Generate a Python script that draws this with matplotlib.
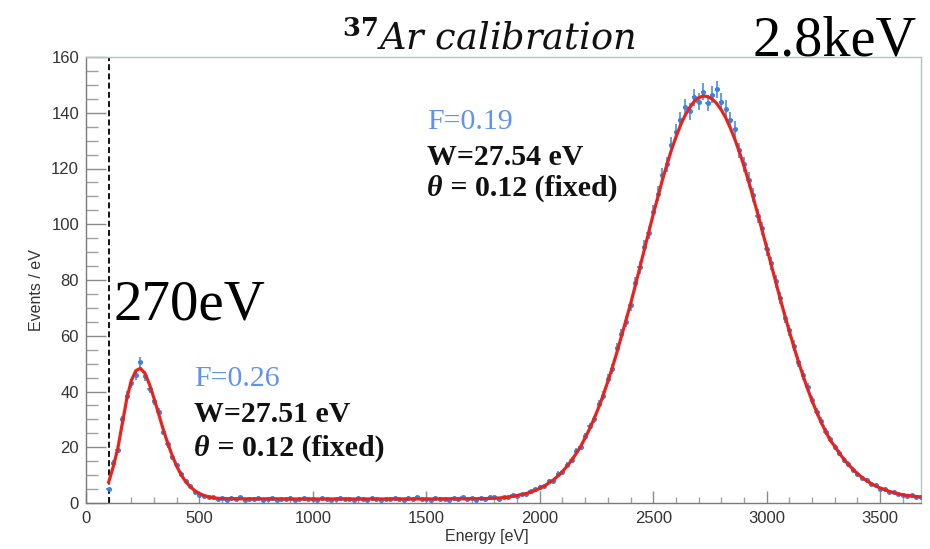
import numpy as np
import matplotlib
matplotlib.use("Agg")
import matplotlib.pyplot as plt
from matplotlib.ticker import MultipleLocator

# ---------------- data ----------------
bin_start = 100      # eV, first bin centre
bin_width = 20       # eV

counts = [
    # 100 - 600
    5.0, 14.5, 19.0, 30.0, 38.5, 43.0, 46.0, 50.5, 45.5, 41.0,
    36.5, 32.5, 25.5, 21.0, 16.5, 13.5, 10.5, 8.0, 6.0, 4.0,
    3.0, 2.6, 2.0, 2.3, 1.4, 1.8,
    # 620 - 1780
    1.2, 1.7, 1.4, 2.0, 1.1, 1.6, 1.3, 1.9, 1.0, 1.5,
    1.8, 1.2, 1.6, 1.4, 1.9, 1.1, 1.5, 1.7, 1.3, 1.6,
    1.2, 1.8, 1.4, 1.0, 1.6, 1.9, 1.3, 1.5, 1.1, 1.7,
    1.4, 1.2, 1.8, 1.5, 1.0, 1.6, 1.3, 1.9, 1.4, 1.2,
    1.7, 1.5, 2.1, 1.3, 1.6, 1.1, 1.8, 1.4, 1.6, 1.2,
    1.9, 1.5, 2.2, 1.4, 1.7, 1.2, 1.9, 1.5, 2.0,
    # 1800 - 3680
    2.0, 1.6, 2.3, 2.0, 2.8, 2.5, 3.3, 3.1, 4.2, 5.0,
    5.8, 6.0, 7.8, 8.0, 10.5, 11.0, 13.8, 15.5, 18.5, 20.0,
    24.0, 27.5, 30.0, 35.5, 38.5, 44.5, 48.0, 55.5, 60.5, 65.0,
    71.0, 79.0, 84.5, 92.0, 97.0, 104.5, 111.0, 117.5, 121.5, 128.5,
    133.0, 137.5, 142.0, 140.5, 145.5, 144.0, 147.5, 143.5, 146.5, 148.5,
    144.0, 141.5, 137.5, 134.0, 126.5, 121.5, 116.0, 110.5, 103.0, 98.5,
    91.0, 86.0, 79.5, 73.5, 66.5, 62.0, 56.5, 50.5, 46.0, 41.5,
    37.0, 32.5, 29.5, 25.5, 23.0, 20.0, 18.0, 15.5, 14.0, 12.0,
    10.5, 9.0, 8.2, 6.8, 6.3, 5.2, 4.9, 4.0, 3.8, 3.1,
    3.0, 2.5, 2.7, 2.2, 2.0,
]

fit = [
    # 100 - 600
    7.5, 13.0, 19.5, 28.5, 37.5, 44.0, 47.5, 48.3, 46.5, 42.5,
    37.5, 32.0, 26.5, 21.5, 17.0, 13.2, 10.0, 7.6, 5.8, 4.4,
    3.4, 2.7, 2.2, 1.9, 1.7, 1.6,
    # 620 - 1780
    1.55, 1.55, 1.5, 1.5, 1.5, 1.5, 1.5, 1.5, 1.5, 1.5,
    1.5, 1.5, 1.5, 1.45, 1.45, 1.45, 1.45, 1.45, 1.45, 1.45,
    1.45, 1.45, 1.45, 1.45, 1.45, 1.45, 1.45, 1.45, 1.45, 1.45,
    1.45, 1.45, 1.45, 1.45, 1.45, 1.45, 1.45, 1.45, 1.45, 1.45,
    1.45, 1.45, 1.45, 1.45, 1.45, 1.45, 1.45, 1.5, 1.5, 1.5,
    1.5, 1.5, 1.5, 1.5, 1.55, 1.55, 1.6, 1.6, 1.65,
    # 1800 - 3680
    1.7, 1.8, 1.9, 2.1, 2.4, 2.7, 3.0, 3.4, 3.9, 4.5,
    5.3, 6.1, 7.2, 8.3, 9.7, 11.3, 13.2, 15.3, 17.7, 20.3,
    23.4, 26.7, 30.4, 34.4, 38.8, 43.6, 48.7, 54.1, 59.9, 65.8,
    71.4, 77.7, 84.2, 90.7, 97.2, 103.6, 109.7, 115.8, 121.3, 126.6,
    131.3, 135.5, 139.0, 141.8, 144.0, 145.4, 146.0, 145.8, 144.9, 143.3,
    141.0, 138.1, 134.5, 130.4, 125.8, 120.9, 115.5, 109.7, 103.9, 97.8,
    91.6, 85.4, 79.2, 73.1, 67.2, 61.5, 55.9, 50.7, 45.7, 41.0,
    36.7, 32.7, 29.0, 25.6, 22.5, 20.3, 17.9, 15.7, 13.8, 12.1,
    10.5, 9.2, 8.0, 7.0, 6.1, 5.4, 4.8, 4.2, 3.7, 3.3,
    2.9, 2.7, 2.5, 2.3, 2.2,
]

energy = bin_start + bin_width * np.arange(len(counts))
counts = np.array(counts)
fit = np.array(fit)

x_ticks = [0, 500, 1000, 1500, 2000, 2500, 3000, 3500]
y_ticks = [0, 20, 40, 60, 80, 100, 120, 140, 160]
threshold = 100

# ---------------- figure ----------------
W, H = 930, 549
fig = plt.figure(figsize=(W / 100, H / 100), dpi=100)
fig.patch.set_facecolor("white")

def fx(px):
    return px / W

def fy(py):
    return 1 - py / H

ax = fig.add_axes([fx(86), fy(503), fx(921) - fx(86), fy(57) - fy(503)])
ax.set_xlim(0, 3680)
ax.set_ylim(0, 160)

# data points
yerr = 0.25 * np.sqrt(counts)
ax.errorbar(energy, counts, yerr=yerr, xerr=bin_width / 2, fmt="o",
            ms=2.6, color="#3b82e6", ecolor="#3b82e6", elinewidth=1.1,
            capsize=0, zorder=3)
# fit
ax.plot(energy, fit, color="#e8231c", lw=2.3, zorder=4)
# threshold
ax.axvline(threshold, color="black", lw=1.3, ls=(0, (3.3, 1.8)), zorder=2)

# axes style (ROOT-like)
for s in ["left", "bottom"]:
    ax.spines[s].set_color("#7a7a7a")
    ax.spines[s].set_linewidth(1.0)
for s in ["top", "right"]:
    ax.spines[s].set_color("#b3c3c0")
    ax.spines[s].set_linewidth(1.0)

ax.set_xticks(x_ticks)
ax.set_yticks(y_ticks)
ax.xaxis.set_minor_locator(MultipleLocator(100))
ax.yaxis.set_minor_locator(MultipleLocator(5))
ax.tick_params(axis="y", which="major", direction="in", length=14.5,
               width=1.0, color="#8a8a8a", labelsize=12,
               labelcolor="#333333", pad=5)
ax.tick_params(axis="y", which="minor", direction="in", length=8.5,
               width=1.0, color="#a0a0a0")
ax.tick_params(axis="x", which="major", direction="in", length=8.5,
               width=1.0, color="#8a8a8a", labelsize=12,
               labelcolor="#333333", pad=6)
ax.tick_params(axis="x", which="minor", direction="in", length=4.5,
               width=1.0, color="#a0a0a0")
for lab in ax.get_xticklabels() + ax.get_yticklabels():
    lab.set_family("Liberation Sans")

fig.text(fx(487), fy(537), "Energy [eV]", ha="center", va="center",
         fontsize=11.5, color="#333333", family="Liberation Sans")
fig.text(fx(36), fy(290), "Events / eV", ha="center", va="center",
         rotation=90, fontsize=11.5, color="#333333", family="Liberation Sans")

# title
plt.rcParams["mathtext.fontset"] = "dejavuserif"
fig.text(fx(489), fy(50), r"$^{\mathbf{37}}\mathit{Ar\ calibration}$",
         ha="center", va="baseline", fontsize=26.5, color="#111111")

# big labels
fig.text(fx(752), fy(56), "2.8keV", ha="left", va="baseline",
         fontsize=40.5, family="Liberation Serif", color="black")
fig.text(fx(113), fy(320), "270eV", ha="left", va="baseline",
         fontsize=41, family="Liberation Serif", color="black")

# parameter boxes
blue = "#5f93f0"
fs = 21.5

def block(x0, y_f, y_w, y_t, F, Wv):
    fig.text(fx(x0), fy(y_f), "F=" + F, ha="left", va="baseline",
             fontsize=fs, family="Liberation Serif", color=blue)
    fig.text(fx(x0), fy(y_w), "W=" + Wv + " eV", ha="left", va="baseline",
             fontsize=fs, family="Liberation Serif", weight="bold",
             color="#111111")
    t1 = fig.text(fx(x0), fy(y_t), "θ", ha="left", va="baseline",
                  fontsize=fs, family="Liberation Serif", weight="bold",
                  style="italic", color="#111111")
    fig.canvas.draw()
    bb = t1.get_window_extent()
    fig.text(bb.x1 / W, fy(y_t), " = 0.12 (fixed)", ha="left",
             va="baseline", fontsize=fs, family="Liberation Serif",
             weight="bold", color="#111111")

block(194, 386, 421.5, 456, "0.26", "27.51")
block(427, 129, 165, 196, "0.19", "27.54")

fig.savefig("out.png", dpi=100)
